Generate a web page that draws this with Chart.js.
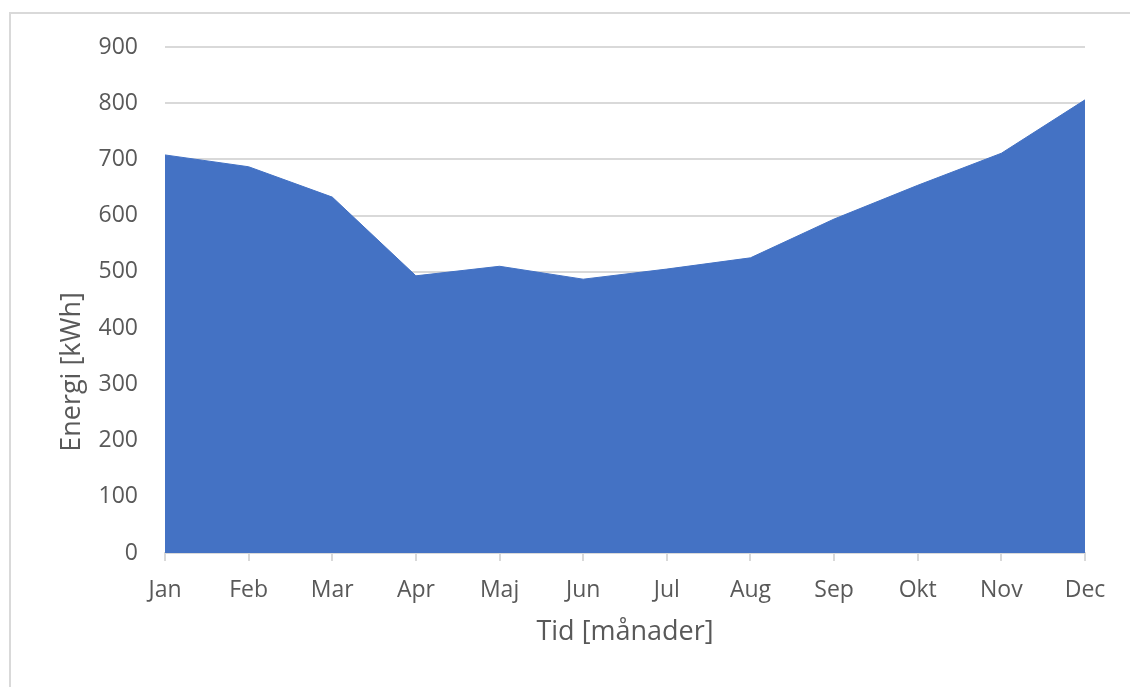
<!DOCTYPE html>
<html>
<head>
<meta charset="utf-8">
<script src="https://cdn.jsdelivr.net/npm/chart.js@4"></script>
<style>
  html, body { margin: 0; padding: 0; background: #fff; overflow: hidden; }
  #frame { position: absolute; left: 9px; top: 12px; width: 1200px; height: 800px; border: 2px solid #d9d9d9; }
  #wrap { position: absolute; left: 0; top: 0; width: 1130px; height: 687px; }
</style>
</head>
<body>
<div id="frame"></div>
<div id="wrap"><canvas id="chart" width="1130" height="687"></canvas></div>
<script>
// månader och energi [kWh]
const months = ['Jan', 'Feb', 'Mar', 'Apr', 'Maj', 'Jun', 'Jul', 'Aug', 'Sep', 'Okt', 'Nov', 'Dec'];
const energy = [708, 687, 633, 493, 510, 487, 505, 525, 594, 654, 711, 806];
const yTicks = [0, 100, 200, 300, 400, 500, 600, 700, 800, 900];

const textColor = '#595959';
const gridColor = '#d9d9d9';
const font = "'Open Sans', sans-serif";

// y-axelns titel sitter lite under mitten i originalet, så den ritas för hand
const yTitle = {
  id: 'yTitle',
  afterDraw(chart) {
    const ctx = chart.ctx;
    ctx.save();
    ctx.translate(72, 372);
    ctx.rotate(-Math.PI / 2);
    ctx.font = '27px ' + font;
    ctx.fillStyle = textColor;
    ctx.textAlign = 'center';
    ctx.textBaseline = 'middle';
    ctx.fillText('Energi [kWh]', 0, 0);
    ctx.restore();
  }
};

new Chart(document.getElementById('chart'), {
  type: 'line',
  data: {
    labels: months,
    datasets: [{
      label: 'Energi',
      data: energy,
      backgroundColor: '#4472c4',
      borderColor: '#4472c4',
      borderWidth: 1,
      pointRadius: 0,
      fill: 'origin',
      tension: 0
    }]
  },
  options: {
    responsive: false,
    animation: false,
    layout: { padding: { left: 0, top: 47, right: 45, bottom: 38 } },
    plugins: { legend: { display: false }, tooltip: { enabled: false } },
    scales: {
      x: {
        offset: false,
        grid: { drawOnChartArea: false, drawTicks: true, tickLength: 8, color: gridColor, lineWidth: 2 },
        border: { color: gridColor, width: 2 },
        ticks: { color: textColor, font: { family: font, size: 23 }, padding: 16, maxRotation: 0 },
        title: { display: true, text: 'Tid [månader]', color: textColor, font: { family: font, size: 27 }, padding: 0 },
        afterFit: s => { s.height = 649 - 553; }
      },
      y: {
        min: 0,
        max: 900,
        afterBuildTicks: s => { s.ticks = yTicks.map(v => ({ value: v })); },
        grid: { color: gridColor, lineWidth: 2, drawTicks: false },
        border: { display: false },
        ticks: { color: textColor, font: { family: font, size: 23 }, padding: 27 },
        afterFit: s => { s.width = 165; }
      }
    }
  },
  plugins: [yTitle]
});
</script>
</body>
</html>
